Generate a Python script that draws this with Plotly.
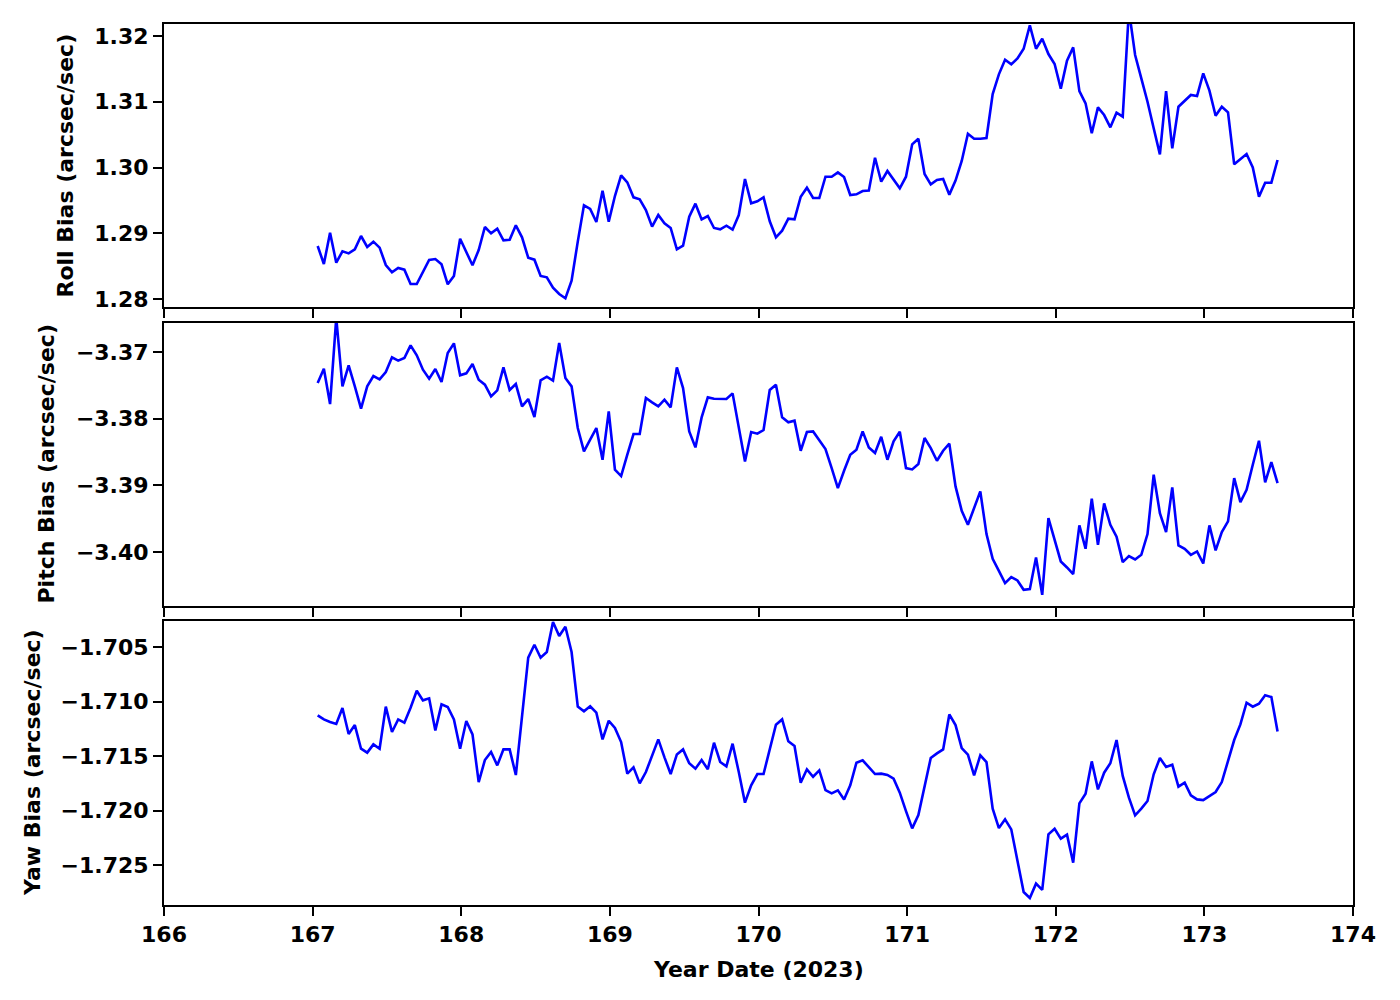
import numpy as np
import plotly.graph_objects as go
from plotly.subplots import make_subplots

# hourly samples starting at day 167.034 (2023)
START_DAY = 167.034
roll = [
1.28806,1.28532,1.29009,1.28552,1.28725,1.28694,1.28755,1.28958,1.28791,1.28872,
1.28781,1.28517,1.28405,1.28471,1.28446,1.28228,1.28228,1.28410,1.28593,1.28608,
1.28527,1.28223,1.28350,1.28917,1.28720,1.28512,1.28745,1.29095,1.28999,1.29070,
1.28892,1.28902,1.29120,1.28938,1.28628,1.28598,1.28350,1.28329,1.28172,1.28076,
1.28010,1.28279,1.28872,1.29424,1.29369,1.29171,1.29648,1.29176,1.29566,1.29881,
1.29774,1.29546,1.29516,1.29353,1.29100,1.29277,1.29151,1.29080,1.28755,1.28811,
1.29252,1.29450,1.29211,1.29262,1.29080,1.29059,1.29115,1.29054,1.29277,1.29825,
1.29455,1.29485,1.29546,1.29181,1.28938,1.29039,1.29222,1.29211,1.29556,1.29693,
1.29536,1.29536,1.29860,1.29860,1.29926,1.29855,1.29582,1.29592,1.29642,1.29648,
1.30149,1.29784,1.29947,1.29810,1.29683,1.29860,1.30352,1.30438,1.29901,1.29744,
1.29810,1.29825,1.29587,1.29800,1.30099,1.30514,1.30438,1.30438,1.30449,1.31118,
1.31417,1.31640,1.31569,1.31660,1.31807,1.32162,1.31807,1.31959,1.31726,1.31574,
1.31199,1.31625,1.31828,1.31163,1.30976,1.30520,1.30915,1.30798,1.30611,1.30834,
1.30773,1.32395,1.31711,1.31356,1.31001,1.30596,1.30200,1.31163,1.30291,1.30925,
1.31016,1.31103,1.31087,1.31432,1.31169,1.30788,1.30925,1.30839,1.30048,1.30124,
1.30205,1.30002,1.29556,1.29769,1.29769,1.30114]

pitch = [
-3.37465,-3.37250,-3.37780,-3.36490,-3.37515,-3.37200,-3.37515,-3.37850,-3.37515,-3.37360,
-3.37410,-3.37300,-3.37080,-3.37130,-3.37090,-3.36900,-3.37050,-3.37265,-3.37400,-3.37255,
-3.37450,-3.37015,-3.36870,-3.37350,-3.37320,-3.37180,-3.37415,-3.37490,-3.37665,-3.37575,
-3.37230,-3.37570,-3.37480,-3.37815,-3.37705,-3.37975,-3.37425,-3.37370,-3.37430,-3.36865,
-3.37390,-3.37515,-3.38140,-3.38490,-3.38315,-3.38140,-3.38615,-3.37890,-3.38765,-3.38860,
-3.38540,-3.38230,-3.38230,-3.37690,-3.37755,-3.37815,-3.37715,-3.37830,-3.37230,-3.37540,
-3.38190,-3.38430,-3.37980,-3.37680,-3.37700,-3.37700,-3.37705,-3.37620,-3.38140,-3.38640,
-3.38200,-3.38225,-3.38170,-3.37570,-3.37490,-3.37980,-3.38055,-3.38030,-3.38480,-3.38200,
-3.38190,-3.38315,-3.38455,-3.38740,-3.39040,-3.38780,-3.38540,-3.38465,-3.38190,-3.38430,
-3.38515,-3.38270,-3.38615,-3.38340,-3.38195,-3.38740,-3.38760,-3.38680,-3.38290,-3.38440,
-3.38630,-3.38480,-3.38375,-3.39015,-3.39380,-3.39590,-3.39340,-3.39090,-3.39730,-3.40100,
-3.40280,-3.40465,-3.40375,-3.40425,-3.40565,-3.40555,-3.40080,-3.40640,-3.39490,-3.39800,
-3.40140,-3.40230,-3.40330,-3.39600,-3.39950,-3.39200,-3.39890,-3.39270,-3.39590,-3.39770,
-3.40150,-3.40060,-3.40110,-3.40040,-3.39730,-3.38840,-3.39415,-3.39700,-3.39030,-3.39900,
-3.39950,-3.40040,-3.39990,-3.40170,-3.39600,-3.39975,-3.39700,-3.39540,-3.38890,-3.39250,
-3.39065,-3.38690,-3.38330,-3.38955,-3.38650,-3.38965]

yaw = [
-1.71127,-1.71164,-1.71188,-1.71206,-1.71060,-1.71298,-1.71216,-1.71433,-1.71469,-1.71393,
-1.71433,-1.71047,-1.71280,-1.71164,-1.71194,-1.71057,-1.70901,-1.70989,-1.70971,-1.71265,
-1.71026,-1.71050,-1.71164,-1.71433,-1.71179,-1.71301,-1.71739,-1.71537,-1.71463,-1.71586,
-1.71439,-1.71439,-1.71674,-1.71133,-1.70598,-1.70479,-1.70598,-1.70546,-1.70271,-1.70399,
-1.70314,-1.70546,-1.71047,-1.71090,-1.71044,-1.71102,-1.71347,-1.71176,-1.71243,-1.71372,
-1.71662,-1.71604,-1.71751,-1.71647,-1.71506,-1.71347,-1.71512,-1.71665,-1.71485,-1.71439,
-1.71567,-1.71616,-1.71537,-1.71622,-1.71378,-1.71555,-1.71595,-1.71387,-1.71647,-1.71928,
-1.71769,-1.71665,-1.71665,-1.71433,-1.71213,-1.71164,-1.71365,-1.71408,-1.71745,-1.71622,
-1.71690,-1.71632,-1.71812,-1.71843,-1.71815,-1.71898,-1.71769,-1.71561,-1.71540,-1.71601,
-1.71665,-1.71662,-1.71674,-1.71708,-1.71836,-1.72005,-1.72164,-1.72041,-1.71775,-1.71518,
-1.71476,-1.71439,-1.71118,-1.71216,-1.71427,-1.71488,-1.71677,-1.71494,-1.71555,-1.71983,
-1.72161,-1.72081,-1.72173,-1.72473,-1.72748,-1.72803,-1.72671,-1.72729,-1.72219,-1.72167,
-1.72258,-1.72222,-1.72479,-1.71934,-1.71846,-1.71549,-1.71806,-1.71653,-1.71567,-1.71353,
-1.71683,-1.71882,-1.72044,-1.71983,-1.71913,-1.71668,-1.71518,-1.71601,-1.71580,-1.71781,
-1.71745,-1.71861,-1.71898,-1.71904,-1.71867,-1.71830,-1.71739,-1.71549,-1.71353,-1.71210,
-1.71011,-1.71047,-1.71020,-1.70943,-1.70959,-1.71274]

time = START_DAY + np.arange(len(roll)) / 24.0

y_titles = ["Roll Bias (arcsec/sec)", "Pitch Bias (arcsec/sec)", "Yaw Bias (arcsec/sec)"]
y_ranges = [[1.27878, 1.32183], [-3.40808, -3.36565], [-1.72867, -1.70261]]
y_ticks = [[1.28, 1.29, 1.30, 1.31, 1.32],
           [-3.40, -3.39, -3.38, -3.37],
           [-1.725, -1.720, -1.715, -1.710, -1.705]]
y_fmt = [".2f", ".2f", ".3f"]
x_ticks = [166, 167, 168, 169, 170, 171, 172, 173, 174]
x_title = "Year Date (2023)"

FONT = dict(family="DejaVu Sans", size=22, color="black", weight="bold")

fig = make_subplots(rows=3, cols=1, shared_xaxes=True)
series = [roll, pitch, yaw]
for i, s in enumerate(series):
    fig.add_trace(go.Scatter(x=time, y=s, mode="lines",
                             line=dict(color="#0000ff", width=2.6),
                             showlegend=False, hoverinfo="x+y"), row=i + 1, col=1)

# page body has an 8px offset, so margins are shifted accordingly
OFF = 8
L, R, T, B = 164 - OFF, 47 + OFF, 24 - OFF, 95 + OFF
H = 1000 - T - B
W = 1400 - L - R

def frac(ypx):
    # ypx = target pixel row in the final screenshot
    return (1000 - B - (ypx - OFF)) / H

domains = [[frac(307), frac(24)], [frac(606), frac(323)], [frac(905), frac(621)]]

axis_common = dict(showline=True, linecolor="black", linewidth=2, mirror=True,
                   ticks="outside", ticklen=9, tickwidth=2, tickcolor="black",
                   showgrid=False, zeroline=False, tickfont=FONT)

for i in range(3):
    fig.update_yaxes(row=i + 1, col=1, range=y_ranges[i], tickvals=y_ticks[i],
                     tickformat=y_fmt[i], domain=domains[i], **axis_common)
    fig.update_xaxes(row=i + 1, col=1, range=[166, 174], tickvals=x_ticks,
                     showticklabels=(i == 2), **axis_common)

title_x_px = [65, 46, 32]
annotations = []
for i in range(3):
    annotations.append(dict(text=y_titles[i], textangle=-90, xref="paper", yref="paper",
                            x=-(164 - title_x_px[i]) / W, y=(domains[i][0] + domains[i][1]) / 2,
                            xanchor="center", yanchor="middle", showarrow=False, font=FONT))
annotations.append(dict(text=x_title, xref="paper", yref="paper", x=0.5, y=-(969 - 905) / H,
                        xanchor="center", yanchor="middle", showarrow=False, font=FONT))

fig.update_layout(width=1400, height=1000, margin=dict(l=L, r=R, t=T, b=B),
                  paper_bgcolor="white", plot_bgcolor="white",
                  annotations=annotations, font=FONT)

fig.write_html("out.html")
